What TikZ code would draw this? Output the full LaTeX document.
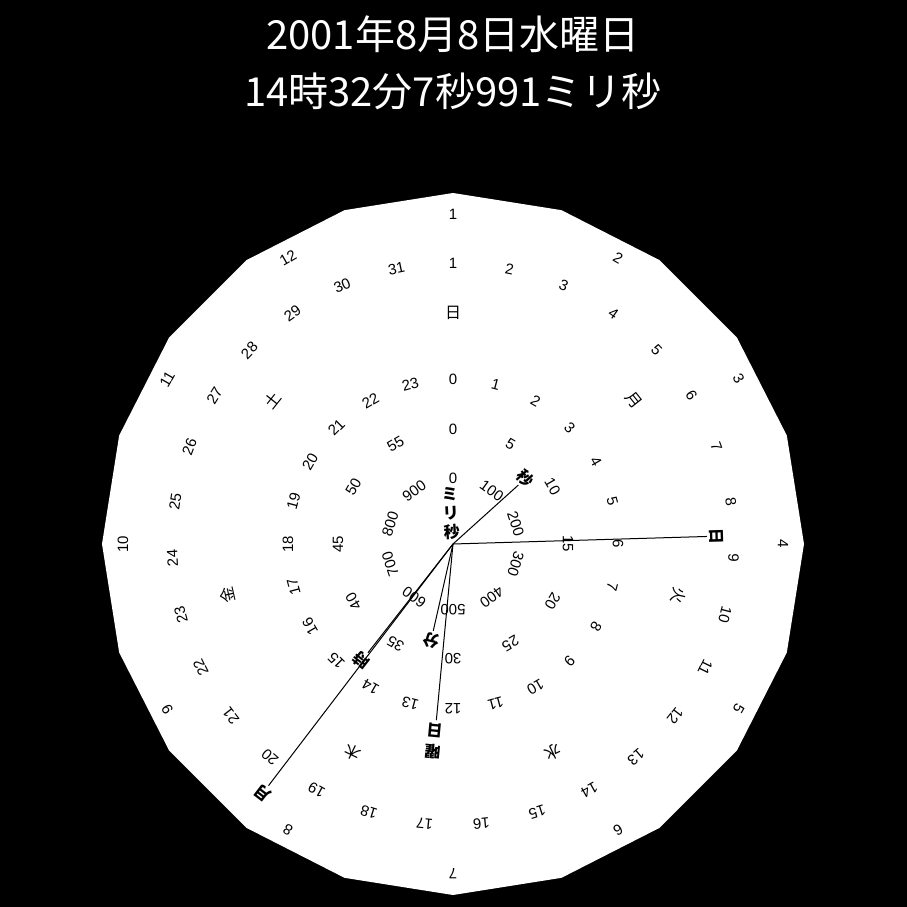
\documentclass[tikz,border=0pt]{standalone}
\usepackage{fontspec}
\setmainfont{Liberation Sans}
\newfontfamily\jp{Noto Sans CJK JP}
\begin{document}
\begin{tikzpicture}[x=1pt,y=1pt,
  ringnum/.style={font=\fontsize{15}{15}\selectfont, inner sep=0pt, text=black},
  ringjp/.style={font=\jp\fontsize{16}{16}\selectfont, inner sep=0pt, text=black},
  handline/.style={draw=black, line width=1pt},
  handlab/.style={font=\jp\bfseries\fontsize{16}{16}\selectfont, inner sep=0pt, text=black, align=center},
  titletext/.style={font=\jp\fontsize{40}{40}\selectfont, text=white, anchor=base, inner sep=0pt}]
\useasboundingbox (-453,-363) rectangle (454,544);
\fill[black] (-453,-363) rectangle (454,544);
% dial face: 20-gon
\fill[white] (90:351) \foreach \k in {1,...,19} { -- ({90-\k*18}:351) } -- cycle;
% title
\node[titletext] (title1) at (0,494.7) {2001年8月8日水曜日};
\node[titletext] (title2) at (0,437.3) {14時32分7秒991ミリ秒};
% months
\foreach \m in {1,...,12} {
  \pgfmathsetmacro\a{(\m-1)*30}
  \node[ringnum, rotate=-\a] (mon\m) at ({90-\a}:330) {\m};
}
% days
\foreach \d in {1,...,31} {
  \pgfmathsetmacro\a{(\d-1)*360/31}
  \node[ringnum, rotate=-\a] (day\d) at ({90-\a}:281) {\d};
}
% weekdays
\foreach \t [count=\i from 0] in {日,月,火,水,木,金,土} {
  \pgfmathsetmacro\a{\i*360/7}
  \node[ringjp, rotate=-\a] (wd\i) at ({90-\a}:231) {\t};
}
% hours
\foreach \h in {0,...,23} {
  \pgfmathsetmacro\a{\h*15}
  \node[ringnum, rotate=-\a] (hr\h) at ({90-\a}:165) {\h};
}
% minutes / seconds
\foreach \k in {0,...,11} {
  \pgfmathsetmacro\a{\k*30}
  \pgfmathtruncatemacro\v{\k*5}
  \node[ringnum, rotate=-\a] (mn\k) at ({90-\a}:115) {\v};
}
% milliseconds
\foreach \k in {0,...,9} {
  \pgfmathsetmacro\a{\k*36}
  \pgfmathtruncatemacro\v{\k*100}
  \node[ringnum, rotate=-\a] (ms\k) at ({90-\a}:66) {\v};
}
% hands
\coordinate (c) at (0,0);
% second
\coordinate (secend) at ({90-47.95}:88);
\draw[handline] (c) -- (secend);
\node[handlab, rotate=-47.95] (seclab) at ({90-47.95}:98) {秒};
% minute
\coordinate (minend) at ({90-192.8}:89);
\draw[handline] (c) -- (minend);
\node[handlab, rotate=-192.8] (minlab) at ({90-192.8}:99) {分};
% hour
\coordinate (hrend) at ({90-218.03}:138);
\draw[handline] (c) -- (hrend);
\node[handlab, rotate=-218.03] (hrlab) at ({90-218.03}:148) {時};
% weekday
\coordinate (wdend) at ({90-185.4}:177);
\draw[handline] (c) -- (wdend);
\node[handlab, font=\jp\bfseries\fontsize{16}{22}\selectfont, rotate=-185.4] (wdlab) at ({90-185.4}:198) {曜\\日};
% day
\coordinate (dayend) at ({90-88.3}:254);
\draw[handline] (c) -- (dayend);
\node[handlab, rotate=-88.3] (daylab) at ({90-88.3}:264) {日};
% month
\coordinate (monend) at ({90-217.36}:304);
\draw[handline] (c) -- (monend);
\node[handlab, rotate=-217.36] (monlab) at ({90-217.36}:314) {月};
% millisecond
\node[handlab, font=\jp\bfseries\fontsize{16}{19}\selectfont, rotate=3.24] (mslab) at ({90+3.24}:31) {ミ\\リ\\秒};
\end{tikzpicture}
\end{document}
